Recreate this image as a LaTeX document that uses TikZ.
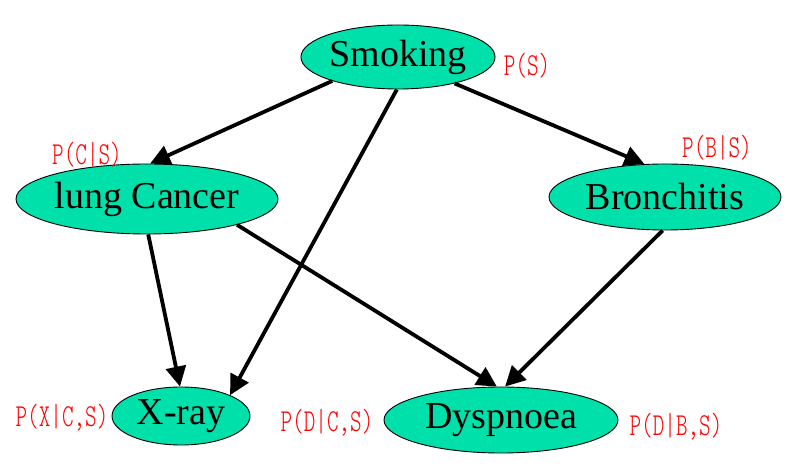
\documentclass[tikz,border=0pt]{standalone}
\usepackage{fontspec}
\setmainfont{Liberation Serif}
\newfontfamily\labfont[FakeStretch=0.69]{lmmonolt10-regular.otf}
\usetikzlibrary{shapes.geometric,arrows.meta}
\definecolor{nodegreen}{RGB}{0,224,170}
\definecolor{labred}{RGB}{255,0,0}
\tikzset{
  bnode/.style={ellipse, draw=black, line width=0.9pt, fill=nodegreen, inner sep=0pt,
    font=\fontsize{38}{40}\selectfont},
  plabel/.style={text=labred, inner sep=0pt, font=\labfont\fontsize{32}{34}\selectfont},
  edge/.style={line width=3.8pt, -{Triangle[length=20pt,width=20pt]}}
}
\begin{document}
\begin{tikzpicture}[x=1pt,y=1pt]
\path[use as bounding box] (0,0) rectangle (799,470);
\node[bnode, minimum width=190pt, minimum height=64pt] (s) at (398,413) {Smoking};
\node[bnode, minimum width=262pt, minimum height=70pt] (c) at (147,271) {lung Cancer};
\node[bnode, minimum width=232pt, minimum height=66pt] (b) at (665,273) {Bronchitis};
\node[bnode, minimum width=138pt, minimum height=58pt] (x) at (181,54) {X-ray};
\node[bnode, minimum width=234pt, minimum height=66pt] (d) at (501,50) {Dyspnoea};
\node[plabel] (ls) at (527,404) {P(S)};
\node[plabel] (lc) at (87,315) {P(C|S)};
\node[plabel] (lb) at (717,322) {P(B|S)};
\node[plabel] (lx) at (62,52) {P(X|C,S)};
\node[plabel] (ld1) at (327,47) {P(D|C,S)};
\node[plabel] (ld2) at (676,43) {P(D|B,S)};
\draw[edge] (s.200) -- (c.85);
\draw[edge] (s.268) -- (x.23);
\draw[edge] (s.335) -- (b.122);
\draw[edge] (c.272) -- (x.92);
\draw[edge] (c.344) -- (d.97);
\draw[edge] (b.266) -- (d.83);
\end{tikzpicture}
\end{document}
